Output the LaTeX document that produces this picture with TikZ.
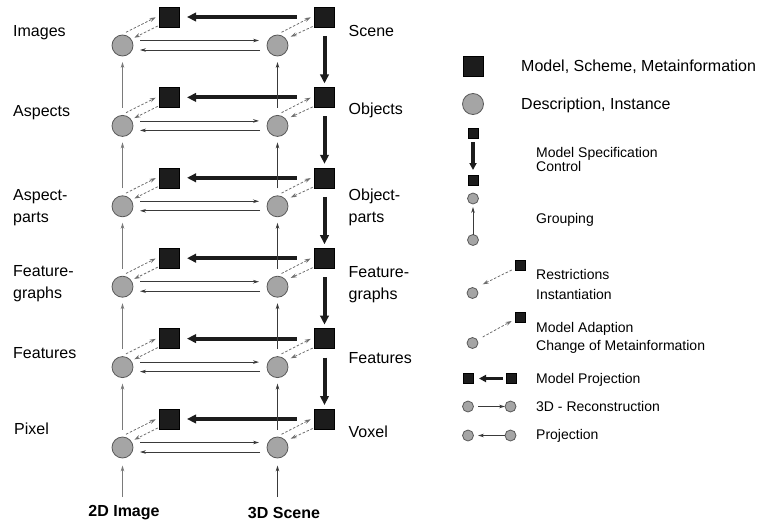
\documentclass[tikz,border=0pt]{standalone}
\usepackage{fontspec}
\setmainfont{Liberation Sans}
\usetikzlibrary{arrows.meta,calc}
\definecolor{boxfill}{HTML}{1C1C1C}
\definecolor{discfill}{HTML}{A5A5A5}
\definecolor{discline}{HTML}{5A5A5A}
\definecolor{dashline}{HTML}{6E6E6E}
\definecolor{thinline}{HTML}{3A3A3A}
\definecolor{greyline}{HTML}{7A7A7A}
\tikzset{
  model/.style={rectangle, draw=black, fill=boxfill, minimum size=20pt, inner sep=0pt},
  inst/.style={circle, draw=discline, fill=discfill, minimum size=21pt, inner sep=0pt, line width=0.8pt},
  smodel/.style={model, minimum size=10pt},
  sinst/.style={inst, minimum size=11pt},
  thinarr/.style={-{Stealth[length=6pt,width=3.6pt]}, line width=0.8pt, draw=#1},
  thinarr/.default=thinline,
  thickarr/.style={-{Triangle[length=9pt,width=8.5pt]}, line width=4pt, draw=boxfill},
  sthickarr/.style={-{Triangle[length=7pt,width=7pt]}, line width=3.2pt, draw=boxfill},
  dasharr/.style={-{Stealth[length=6pt,width=4pt]}, dash pattern=on 2.5pt off 1.8pt, draw=dashline, line width=0.8pt},
  lbl/.style={anchor=base west, inner sep=0pt, font=\fontsize{16}{19}\selectfont},
  slbl/.style={anchor=base west, inner sep=0pt, font=\fontsize{14}{17}\selectfont},
  blbl/.style={anchor=center, inner sep=0pt, font=\fontsize{16}{19}\selectfont\bfseries},
}
\begin{document}
\begin{tikzpicture}[x=1pt,y=-1pt]
\useasboundingbox (0,0) rectangle (757,527);

% six levels: models (squares) and instances (circles), 2D side and 3D side
\foreach \i in {0,...,5} {
  \pgfmathsetmacro\sy{17+80.4*\i}
  \pgfmathsetmacro\cy{45.5+80.4*\i}
  \node[model] (ls\i) at (169.5,\sy) {};
  \node[model] (rs\i) at (324.5,\sy) {};
  \node[inst] (lc\i) at (122.5,\cy) {};
  \node[inst] (rc\i) at (277.5,\cy) {};
}

% model projection (3D model -> 2D model)
\foreach \i in {0,...,5} {
  \draw[thickarr] ([shift={(-28,0)}]rs\i.center) -- ([shift={(17.5,0)}]ls\i.center);
}

% model specification between 3D models
\foreach \i/\j in {0/1,1/2,2/3,3/4,4/5} {
  \draw[thickarr] ([shift={(0,19)}]rs\i.center) -- ([shift={(0,-14)}]rs\j.center);
}

% grouping between instances
\foreach \i/\j in {1/0,2/1,3/2,4/3,5/4} {
  \draw[thinarr=greyline] ([shift={(0,-18)}]lc\i.center) -- ([shift={(0,16.5)}]lc\j.center);
  \draw[thinarr] ([shift={(0,-18)}]rc\i.center) -- ([shift={(0,16.5)}]rc\j.center);
}

% reconstruction / projection and model adaption / instantiation
\foreach \i in {0,...,5} {
  \draw[thinarr] ([shift={(17.5,-5)}]lc\i.center) -- ([shift={(-18.5,-5)}]rc\i.center);
  \draw[thinarr] ([shift={(-17.5,4.5)}]rc\i.center) -- ([shift={(17.5,4.5)}]lc\i.center);
  \draw[dasharr] ([shift={(3.5,-13.2)}]lc\i.center) -- ([shift={(-13.8,0.3)}]ls\i.center);
  \draw[dasharr] ([shift={(-11.8,9)}]ls\i.center) -- ([shift={(11.8,-7.8)}]lc\i.center);
  \draw[dasharr] ([shift={(4,-13.2)}]rc\i.center) -- ([shift={(-13.8,0.3)}]rs\i.center);
  \draw[dasharr] ([shift={(-11.8,9.5)}]rs\i.center) -- ([shift={(13.2,-8.8)}]rc\i.center);
}

% inputs at the bottom
\coordinate (in2d) at (122.5,497);
\coordinate (in3d) at (277.5,497);
\draw[thinarr=greyline] (in2d) -- ([shift={(0,18)}]lc5.center);
\draw[thinarr] (in3d) -- ([shift={(0,18)}]rc5.center);
\node[blbl] (img2d) at (124,513) {2D Image};
\node[blbl] (scn3d) at (284,513) {3D Scene};

% level names, 2D side
\node[lbl] (t0) at (13,37) {Images};
\node[lbl] (t1) at (13,116) {Aspects};
\node[lbl] (t2a) at (13,200.7) {Aspect-};
\node[lbl] (t2b) at (13,222.7) {parts};
\node[lbl] (t3a) at (13,276.7) {Feature-};
\node[lbl] (t3b) at (13,298.5) {graphs};
\node[lbl] (t4) at (13,358) {Features};
\node[lbl] (t5) at (14,434) {Pixel};

% level names, 3D side
\node[lbl] (u0) at (348.5,37) {Scene};
\node[lbl] (u1) at (348.5,114) {Objects};
\node[lbl] (u2a) at (348.5,200) {Object-};
\node[lbl] (u2b) at (348.5,222) {parts};
\node[lbl] (u3a) at (348.5,277) {Feature-};
\node[lbl] (u3b) at (348.5,299) {graphs};
\node[lbl] (u4) at (348.5,363) {Features};
\node[lbl] (u5) at (348.5,437) {Voxel};

% legend
\node[model] (kmod) at (473.5,66) {};
\node[lbl] at (521,71.5) {Model, Scheme, Metainformation};
\node[inst] (kins) at (473,104) {};
\node[lbl] at (521,109.5) {Description, Instance};

\node[smodel] (ka) at (473,133) {};
\node[smodel] (kb) at (473,180) {};
\draw[sthickarr] ([shift={(0,9)}]ka.center) -- ([shift={(0,-10)}]kb.center);
\node[slbl] at (536,157) {Model Specification};
\node[slbl] at (536,171) {Control};

\node[sinst] (ga) at (473,198.5) {};
\node[sinst] (gb) at (473,240) {};
\draw[thinarr] ([shift={(0,-5.5)}]gb.center) -- ([shift={(0,8.5)}]ga.center);
\node[slbl] at (536,223) {Grouping};

\node[smodel] (ra) at (520.5,265.5) {};
\node[sinst] (rb) at (472.5,293) {};
\draw[dasharr] ([shift={(-8.8,4.5)}]ra.center) -- ([shift={(10.2,-8.7)}]rb.center);
\node[slbl] at (536,279) {Restrictions};
\node[slbl] at (536,299) {Instantiation};

\node[smodel] (ma) at (520.5,317.5) {};
\node[sinst] (mb) at (472.5,343) {};
\draw[dasharr] ([shift={(10.2,-6)}]mb.center) -- ([shift={(-8.8,3.5)}]ma.center);
\node[slbl] at (536,332) {Model Adaption};
\node[slbl] at (536,350.5) {Change of Metainformation};

\node[smodel] (pa) at (468.5,378.5) {};
\node[smodel] (pb) at (511.5,378.5) {};
\draw[sthickarr] ([shift={(-8.5,0)}]pb.center) -- ([shift={(10.5,0)}]pa.center);
\node[slbl] at (536,383) {Model Projection};

\node[sinst] (qa) at (468,406.5) {};
\node[sinst] (qb) at (510.5,406.5) {};
\draw[thinarr] ([shift={(10,0)}]qa.center) -- ([shift={(-5.5,0)}]qb.center);
\node[slbl] at (536,411) {3D - Reconstruction};

\node[sinst] (sa) at (468,435.5) {};
\node[sinst] (sb) at (510.5,435.5) {};
\draw[thinarr] ([shift={(-5.5,0)}]sb.center) -- ([shift={(10,0)}]sa.center);
\node[slbl] at (536,439) {Projection};
\end{tikzpicture}
\end{document}
